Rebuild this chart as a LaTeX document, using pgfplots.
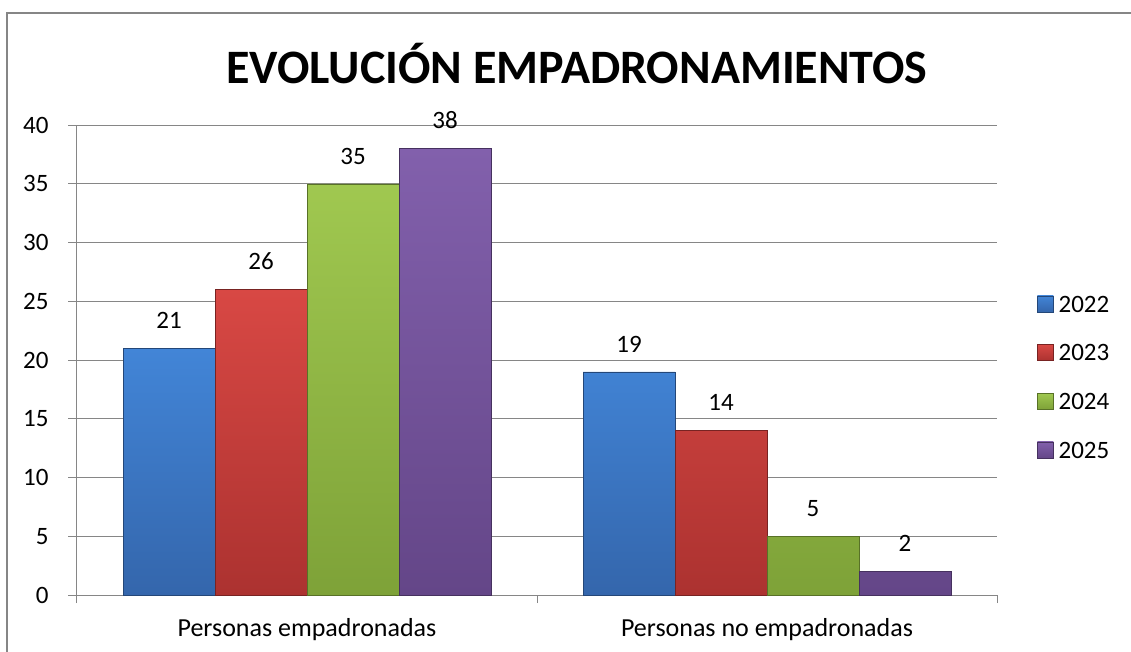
\documentclass[border=0pt]{standalone}
\usepackage{pgfplots}
\pgfplotsset{compat=1.18}
\usepackage{fontspec}
\setmainfont{Carlito}
\definecolor{cAt}{RGB}{66,133,215}
\definecolor{cAb}{RGB}{52,102,172}
\definecolor{cBt}{RGB}{216,72,68}
\definecolor{cBb}{RGB}{172,50,48}
\definecolor{cCt}{RGB}{160,200,80}
\definecolor{cCb}{RGB}{126,162,56}
\definecolor{cDt}{RGB}{130,96,172}
\definecolor{cDb}{RGB}{100,70,136}
\definecolor{gridc}{RGB}{134,134,134}
\begin{document}
\begin{tikzpicture}[x=1pt,y=1pt]
\path[use as bounding box] (0,0) rectangle (1131,651);
\draw[gridc, line width=1.5pt] (7,-2) -- (7,638) -- (1133,638);
\node[font=\fontsize{48}{54}\selectfont\bfseries] at (577,587) {EVOLUCIÓN EMPADRONAMIENTOS};
\begin{axis}[at={(77pt,56pt)}, anchor=south west, scale only axis,
  width=920pt, height=470pt,
  ybar=0pt, bar width=92pt,
  xmin=-0.5, xmax=1.5, ymin=0, ymax=40,
  ytick={0,5,...,40},
  xtick={0,1},
  xticklabels={Personas empadronadas, Personas no empadronadas},
  major x tick style={draw=none},
  extra x ticks={-0.5,0.5,1.5},
  extra x tick labels={},
  extra x tick style={grid=none, tick align=outside, major tick length=8pt, major x tick style={draw=gridc, line width=1pt}},
  axis x line*=bottom, axis y line*=left,
  axis line style={draw=gridc, line width=1pt, -},
  ymajorgrids, grid style={draw=gridc, line width=1pt},
  y tick style={draw=gridc, line width=1pt},
  tick align=outside, major tick length=9pt,
  /pgf/number format/assume math mode=true,
  ticklabel style={font=\fontsize{25}{30}\selectfont, text=black},
  yticklabel style={xshift=-16pt},
  xticklabel style={yshift=-11pt, font=\fontsize{26}{31}\selectfont},
  nodes near coords,
  every node near coord/.append style={font=\fontsize{25}{30}\selectfont, text=black, yshift=16pt, /pgf/number format/assume math mode=true},
  legend style={at={(1.0435,0.462)}, anchor=west, draw=none, fill=none,
    font=\fontsize{25}{30}\selectfont, row sep=27pt, inner sep=0pt,
    /tikz/every odd column/.append style={column sep=3pt}},
  legend cell align=left,
  legend image code/.code={\draw[#1, draw opacity=1] (0pt,-7pt) rectangle (16pt,9pt);},
]
\addplot[top color=cAt, bottom color=cAb, draw=cAb!70!black] coordinates {(0,21) (1,19)};
\addplot[top color=cBt, bottom color=cBb, draw=cBb!70!black] coordinates {(0,26) (1,14)};
\addplot[top color=cCt, bottom color=cCb, draw=cCb!70!black] coordinates {(0,35) (1,5)};
\addplot[top color=cDt, bottom color=cDb, draw=cDb!70!black] coordinates {(0,38) (1,2)};
\legend{2022,2023,2024,2025}
\end{axis}
\end{tikzpicture}
\end{document}
